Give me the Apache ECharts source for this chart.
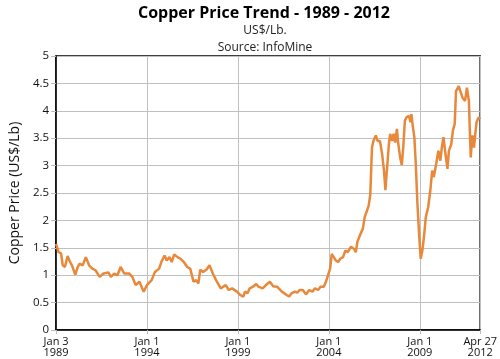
<!DOCTYPE html>
<html>
<head>
<meta charset="utf-8">
<script src="https://cdn.jsdelivr.net/npm/echarts@6/dist/echarts.min.js"></script>
<style>html,body{margin:0;padding:0;background:#fff}#c{width:500px;height:359px}</style>
</head>
<body>
<div id="c"></div>
<script>
// decimal years
var years = [1989.005,1989.04,1989.14,1989.28,1989.37,1989.49,1989.64,1989.76,1989.88,1990.06,1990.20,1990.29,1990.47,1990.64,1990.82,1991.00,1991.17,1991.40,1991.61,1991.88,1992.02,1992.20,1992.38,1992.55,1992.76,1993.03,1993.20,1993.38,1993.59,1993.82,1994.00,1994.26,1994.44,1994.67,1994.79,1994.97,1995.09,1995.24,1995.36,1995.50,1995.68,1995.85,1996.03,1996.21,1996.38,1996.56,1996.70,1996.83,1996.93,1997.09,1997.27,1997.44,1997.62,1997.80,1998.06,1998.33,1998.50,1998.68,1998.95,1999.12,1999.30,1999.39,1999.53,1999.65,1999.83,2000.01,2000.13,2000.36,2000.54,2000.76,2000.94,2001.15,2001.42,2001.68,2001.82,2001.95,2002.13,2002.26,2002.39,2002.57,2002.74,2002.92,2003.10,2003.24,2003.41,2003.54,2003.72,2003.84,2003.98,2004.07,2004.16,2004.25,2004.38,2004.51,2004.63,2004.78,2004.91,2005.04,2005.22,2005.39,2005.48,2005.57,2005.71,2005.87,2005.97,2006.10,2006.19,2006.28,2006.37,2006.45,2006.58,2006.68,2006.81,2006.93,2007.03,2007.11,2007.19,2007.30,2007.37,2007.48,2007.56,2007.65,2007.74,2007.81,2007.92,2008.01,2008.09,2008.18,2008.27,2008.40,2008.49,2008.54,2008.61,2008.70,2008.78,2008.87,2008.96,2009.05,2009.14,2009.23,2009.33,2009.46,2009.58,2009.68,2009.77,2009.90,2010.02,2010.13,2010.21,2010.30,2010.39,2010.52,2010.60,2010.73,2010.82,2010.92,2010.99,2011.14,2011.24,2011.35,2011.49,2011.59,2011.70,2011.75,2011.80,2011.89,2011.98,2012.05,2012.12,2012.23,2012.28,2012.32];
var prices = [1.57,1.55,1.42,1.40,1.18,1.15,1.35,1.25,1.18,1.01,1.15,1.21,1.18,1.33,1.18,1.12,1.09,0.97,1.03,1.05,0.97,1.03,1.00,1.15,1.03,1.03,0.97,0.82,0.88,0.70,0.82,0.91,1.06,1.12,1.24,1.36,1.27,1.33,1.24,1.38,1.33,1.30,1.24,1.15,1.12,0.88,0.91,0.85,1.10,1.06,1.10,1.18,1.03,0.91,0.76,0.82,0.73,0.76,0.70,0.64,0.61,0.70,0.67,0.76,0.79,0.84,0.79,0.76,0.82,0.88,0.80,0.79,0.70,0.64,0.61,0.67,0.70,0.68,0.73,0.73,0.65,0.73,0.70,0.76,0.73,0.79,0.79,0.88,1.03,1.12,1.39,1.41,1.27,1.24,1.30,1.33,1.45,1.42,1.52,1.48,1.42,1.61,1.73,1.85,2.06,2.18,2.27,2.48,3.33,3.45,3.55,3.45,3.45,3.21,2.91,2.55,2.91,3.39,3.58,3.45,3.58,3.42,3.67,3.42,3.15,3.01,3.33,3.82,3.88,3.91,3.79,3.94,3.73,3.52,3.03,2.30,1.76,1.30,1.45,1.70,2.06,2.24,2.55,2.91,2.79,3.03,3.27,3.09,3.33,3.52,3.27,2.94,3.27,3.39,3.64,3.76,4.36,4.45,4.45,4.24,4.18,4.42,4.18,3.64,3.15,3.55,3.33,3.58,3.79,3.88,3.88,3.85];
var tickYears = [1989.005,1994.0,1999.0,2004.0,2009.0,2012.32];
var tickLabels = ['Jan 3\n1989','Jan 1\n1994','Jan 1\n1999','Jan 1\n2004','Jan 1\n2009','Apr 27\n2012'];

var font = 'Open Sans';
var data = years.map(function(y,i){return [y, prices[i]];});
var chart = echarts.init(document.getElementById('c'), null, {renderer:'canvas'});
chart.setOption({
  animation:false,
  title:[
    {text:'Copper Price Trend - 1989 - 2012', left:259, top:0, textAlign:'center',
     textStyle:{fontFamily:font, fontWeight:'bold', fontSize:16, color:'#000'}},
    {text:'US$/Lb.\nSource: InfoMine', left:260, top:17, textAlign:'center',
     textStyle:{fontFamily:font, fontWeight:'normal', fontSize:12, lineHeight:17, color:'#222'}}
  ],
  grid:{left:44, right:16, top:56, bottom:29, show:true, borderColor:'#000', borderWidth:1.5, containLabel:false},
  xAxis:{type:'value', min:tickYears[0], max:tickYears[tickYears.length-1],
    axisLine:{show:true, lineStyle:{color:'#000', width:1.5}},
    axisTick:{show:true, customValues:tickYears, length:4, lineStyle:{color:'#bbb'}},
    axisLabel:{customValues:tickYears, fontFamily:font, fontSize:11, color:'#111', lineHeight:11, margin:6,
      formatter:function(v){var i=tickYears.indexOf(v); return i>=0?tickLabels[i]:'';}},
    splitLine:{show:true, lineStyle:{color:'#c0c0c0', width:1}}
  },
  yAxis:{type:'value', min:0, max:5, interval:0.5,
    name:'Copper Price (US$/Lb)', nameLocation:'middle', nameRotate:90, nameGap:33,
    nameTextStyle:{fontFamily:font, fontSize:14, color:'#111'},
    axisLine:{show:true, lineStyle:{color:'#000', width:1.5}},
    axisTick:{show:true, length:5, lineStyle:{color:'#bbb'}},
    axisLabel:{fontFamily:font, fontSize:11.5, color:'#111', margin:7},
    splitLine:{show:true, lineStyle:{color:'#c0c0c0', width:1}}
  },
  series:[{type:'line', data:data, showSymbol:false, symbol:'none',
    lineStyle:{color:'#E8883A', width:2.5}, z:5}]
});
</script>
</body>
</html>
